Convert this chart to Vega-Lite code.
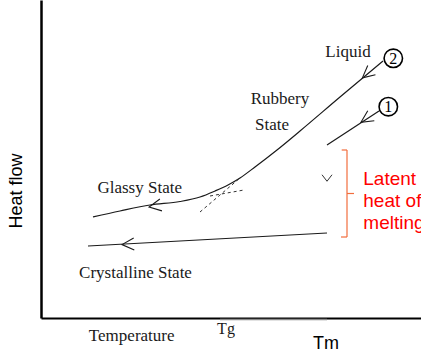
{
  "$schema": "https://vega.github.io/schema/vega-lite/v6.json",
  "width": 380,
  "height": 318,
  "autosize": {"type": "none"},
  "padding": {"left": 41, "top": 0, "right": 0, "bottom": 34},
  "background": "white",
  "config": {"view": {"stroke": null}},
  "datasets": {
    "solid": [
      {"series": "curve2", "x": 52, "y": 101},
      {"series": "curve2", "x": 79, "y": 107},
      {"series": "curve2", "x": 109, "y": 113},
      {"series": "curve2", "x": 139, "y": 116.5},
      {"series": "curve2", "x": 159, "y": 121},
      {"series": "curve2", "x": 174, "y": 127},
      {"series": "curve2", "x": 187, "y": 133},
      {"series": "curve2", "x": 199, "y": 140},
      {"series": "curve2", "x": 214, "y": 151},
      {"series": "curve2", "x": 236, "y": 168},
      {"series": "curve2", "x": 259, "y": 187},
      {"series": "curve2", "x": 299, "y": 221},
      {"series": "curve2", "x": 342, "y": 257},
      {"series": "line1", "x": 286, "y": 173},
      {"series": "line1", "x": 338, "y": 207},
      {"series": "crystalline", "x": 47, "y": 72},
      {"series": "crystalline", "x": 286, "y": 85}
    ],
    "dashed": [
      {"series": "rubbery extension", "x": 159, "y": 106},
      {"series": "rubbery extension", "x": 199, "y": 140},
      {"series": "glassy extension", "x": 169, "y": 122},
      {"series": "glassy extension", "x": 203, "y": 128}
    ],
    "arrows": [
      {"line": "glassy", "x": 114, "y": 112, "direction": -10},
      {"line": "crystalline", "x": 87, "y": 73.7, "direction": -3},
      {"line": "curve2", "x": 326, "y": 244, "direction": -40},
      {"line": "line1", "x": 325, "y": 199, "direction": -33}
    ],
    "vmark": [{"x": 286, "y": 140}],
    "circles": [
      {"label": "2", "x": 352.3, "y": 259.7},
      {"label": "1", "x": 347.3, "y": 211.3}
    ],
    "serifLabels": [
      {"label": "Glassy State", "x": 98.7, "y": 125},
      {"label": "Crystalline State", "x": 94.5, "y": 40},
      {"label": "Rubbery", "x": 239, "y": 214.5},
      {"label": "State", "x": 231, "y": 188},
      {"label": "Liquid", "x": 307, "y": 261},
      {"label": "Temperature", "x": 90.7, "y": -23}
    ],
    "tg": [{"label": "Tg", "x": 185, "y": -15.5}],
    "tm": [{"label": "Tm", "x": 285, "y": -30.5}],
    "yTitle": [{"label": "Heat flow", "x": -19.3, "y": 127}],
    "redText": [
      {"label": "Latent", "x": 322.3, "y": 133.5},
      {"label": "heat of", "x": 322.3, "y": 111.3},
      {"label": "melting", "x": 322.3, "y": 89.5}
    ],
    "bracket": [
      {"part": "top", "x": 300.7, "x2": 306, "y": 168, "y2": 168},
      {"part": "spine", "x": 306, "x2": 306, "y": 168, "y2": 81},
      {"part": "bottom", "x": 300, "x2": 306, "y": 81, "y2": 81},
      {"part": "tick", "x": 306, "x2": 313, "y": 124.5, "y2": 124.5}
    ],
    "underline": [{"x": 179, "x2": 286, "y": -1.5, "y2": -1.5}]
  },
  "encoding": {
    "x": {
      "field": "x",
      "type": "quantitative",
      "scale": {"domain": [0, 380], "nice": false, "zero": false},
      "axis": {"title": null, "labels": false, "ticks": false, "grid": false, "domainColor": "#000000", "domainWidth": 2}
    },
    "y": {
      "field": "y",
      "type": "quantitative",
      "scale": {"domain": [0, 318], "nice": false, "zero": false},
      "axis": {"title": null, "labels": false, "ticks": false, "grid": false, "domainColor": "#000000", "domainWidth": 2.5}
    }
  },
  "layer": [
    {
      "data": {"name": "underline"},
      "mark": {"type": "rule", "color": "#8a8a8a", "strokeWidth": 1.5},
      "encoding": {"x2": {"field": "x2"}, "y2": {"field": "y2"}}
    },
    {
      "data": {"name": "solid"},
      "mark": {"type": "line", "color": "#1a1a1a", "strokeWidth": 1.2, "interpolate": "monotone"},
      "encoding": {"detail": {"field": "series", "type": "nominal"}}
    },
    {
      "data": {"name": "dashed"},
      "mark": {"type": "line", "color": "#333333", "strokeWidth": 1, "strokeDash": [3, 3]},
      "encoding": {"detail": {"field": "series", "type": "nominal"}}
    },
    {
      "data": {"name": "arrows"},
      "mark": {"type": "point", "shape": "M1,-1L-1,0L1,1", "filled": false, "stroke": "#1a1a1a", "strokeWidth": 1.1, "size": 144, "opacity": 1},
      "encoding": {"angle": {"field": "direction", "type": "quantitative", "scale": null}}
    },
    {
      "data": {"name": "vmark"},
      "mark": {"type": "point", "shape": "M-1,-0.65L0,0.65L1,-0.65", "filled": false, "stroke": "#333333", "strokeWidth": 1, "size": 100, "opacity": 1}
    },
    {
      "data": {"name": "circles"},
      "mark": {"type": "point", "shape": "circle", "filled": false, "stroke": "#000000", "strokeWidth": 1.6, "size": 340, "opacity": 1}
    },
    {
      "data": {"name": "circles"},
      "mark": {"type": "text", "font": "Liberation Serif", "fontSize": 16, "baseline": "middle", "align": "center", "color": "#000000", "dy": 0.5},
      "encoding": {"text": {"field": "label"}}
    },
    {
      "data": {"name": "serifLabels"},
      "mark": {"type": "text", "font": "Liberation Serif", "fontSize": 17, "baseline": "alphabetic", "align": "center", "color": "#1a1a1a"},
      "encoding": {"text": {"field": "label"}}
    },
    {
      "data": {"name": "tg"},
      "mark": {"type": "text", "font": "Liberation Serif", "fontSize": 16, "baseline": "alphabetic", "align": "center", "color": "#1a1a1a"},
      "encoding": {"text": {"field": "label"}}
    },
    {
      "data": {"name": "tm"},
      "mark": {"type": "text", "font": "Liberation Sans", "fontSize": 18, "baseline": "alphabetic", "align": "center", "color": "#000000"},
      "encoding": {"text": {"field": "label"}}
    },
    {
      "data": {"name": "yTitle"},
      "mark": {"type": "text", "font": "Liberation Sans", "fontSize": 18, "baseline": "alphabetic", "align": "center", "angle": 270, "color": "#000000"},
      "encoding": {"text": {"field": "label"}}
    },
    {
      "data": {"name": "redText"},
      "mark": {"type": "text", "font": "Liberation Sans", "fontSize": 19, "baseline": "alphabetic", "align": "left", "color": "#ff0000"},
      "encoding": {"text": {"field": "label"}}
    },
    {
      "data": {"name": "bracket"},
      "mark": {"type": "rule", "color": "#f26d3d", "strokeWidth": 1.2},
      "encoding": {"x2": {"field": "x2"}, "y2": {"field": "y2"}}
    }
  ]
}
